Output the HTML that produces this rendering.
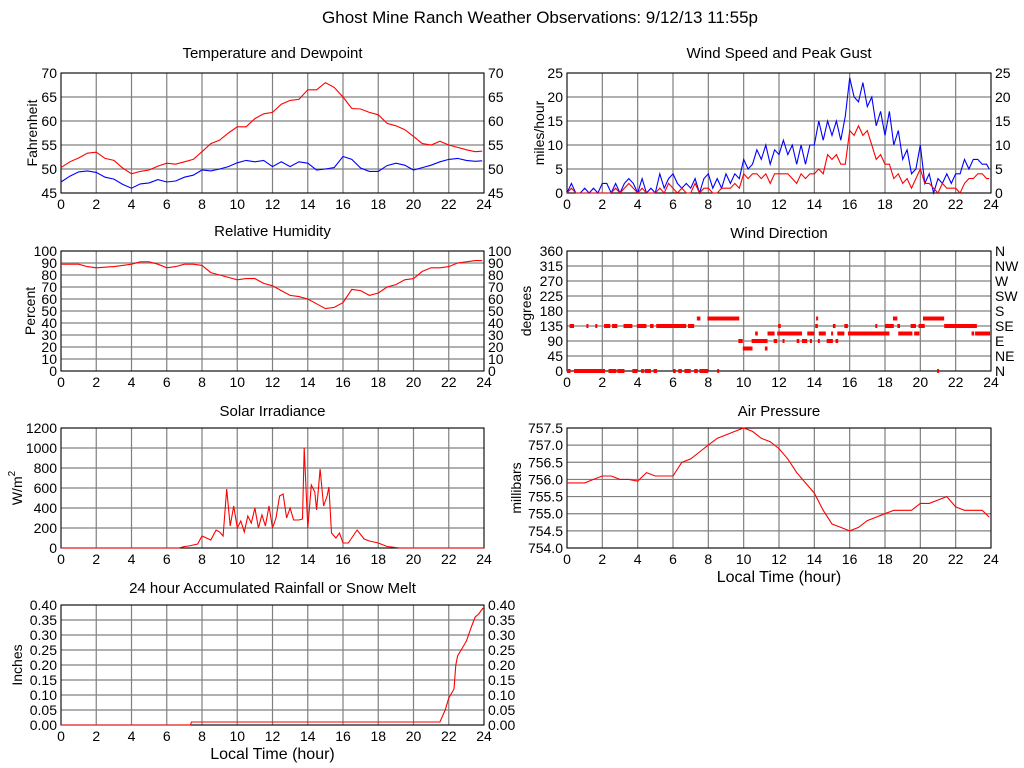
<!DOCTYPE html>
<html><head><meta charset="utf-8"><style>
body{margin:0;background:#fff;}
svg{display:block;font-family:"Liberation Sans",Arial,sans-serif;}
</style></head><body>
<svg id="c" width="1024" height="768" viewBox="0 0 1024 768">
<text x="540" y="23" font-size="17" text-anchor="middle">Ghost Mine Ranch Weather Observations: 9/12/13 11:55p</text>
</svg>
<script>
// ---- data ----
const hoursHalf = [0,0.5,1,1.5,2,2.5,3,3.5,4,4.5,5,5.5,6,6.5,7,7.5,8,8.5,9,9.5,10,10.5,11,11.5,12,12.5,13,13.5,14,14.5,15,15.5,16,16.5,17,17.5,18,18.5,19,19.5,20,20.5,21,21.5,22,22.5,23,23.5,23.9];
const tempVals = [50.3,51.5,52.3,53.3,53.5,52.2,51.8,50.2,49.0,49.5,49.8,50.6,51.2,51.0,51.5,52.0,53.6,55.3,56.0,57.5,58.8,58.8,60.5,61.5,61.8,63.5,64.3,64.5,66.5,66.5,68.0,67.0,65.0,62.6,62.5,61.8,61.3,59.5,59.0,58.2,56.8,55.3,55.0,55.8,55.0,54.5,54.0,53.6,53.7];
const dewVals = [47.3,48.5,49.4,49.6,49.3,48.3,47.9,46.8,46.0,46.9,47.1,47.8,47.3,47.5,48.3,48.7,49.8,49.6,50.0,50.5,51.3,51.8,51.5,51.8,50.5,51.5,50.5,51.5,51.2,49.8,50.0,50.3,52.6,52.0,50.2,49.5,49.5,50.7,51.2,50.8,49.8,50.3,50.8,51.5,52.0,52.2,51.8,51.6,51.7];
const humidVals = [89,89,89,87,86,86.5,87,88,89,91,91,89,86,87,89,89,88,82,80,78,76,77,77,73,71,67,63,62,60,56,52,53,57,68,67,63,65,70,72,76,77,83,86,86,87,90,91,92,92];
const pressVals = [755.9,755.9,755.9,756.0,756.1,756.1,756.0,756.0,755.95,756.2,756.1,756.1,756.1,756.5,756.6,756.8,757.0,757.2,757.3,757.4,757.5,757.4,757.2,757.1,756.9,756.6,756.2,755.9,755.6,755.1,754.7,754.6,754.5,754.6,754.8,754.9,755.0,755.1,755.1,755.1,755.3,755.3,755.4,755.5,755.2,755.1,755.1,755.1,754.9];
const gustVals = [0,2,0,0,1,0,1,0, 2,2,0,2,0,2,3,2, 0,3,0,1,0,4,1,3, 4,2,1,2,1,3,0,3, 4,1,3,1,4,2,4,3, 7,5,6,9,7,10,6,9, 8,11,8,10,6,10,6,10, 10,15,11,15,12,15,11,16, 24,20,19,23,18,20,14,17, 12,17,10,13,7,9,4,5, 10,2,4,0,3,2,4,2, 4,4,7,5,7,7,6,6,5];
const speedVals = [0,1,0,0,0,0,0,0, 0,0,0,1,0,1,2,1, 0,1,0,0,0,1,0,2, 1,0,1,0,0,2,0,1, 1,0,0,1,1,1,2,1, 4,3,4,4,3,4,2,4, 4,4,4,3,2,4,3,4, 4,5,4,8,7,8,6,6, 13,12,14,12,13,10,7,8, 6,6,3,4,2,3,1,3, 5,2,2,1,0,2,1,1, 1,0,2,3,3,4,4,3,3];
const solarHours = [0,6.7,7,7.25,7.5,7.75,8,8.5,8.8,9,9.2,9.4,9.6,9.8,10,10.2,10.4,10.6,10.8,11,11.2,11.4,11.6,11.8,12,12.2,12.4,12.6,12.8,13,13.2,13.5,13.7,13.8,14,14.2,14.4,14.5,14.7,14.9,15.1,15.2,15.35,15.6,15.8,16,16.3,16.8,17.2,17.5,18,18.5,19,19.2,24];
const solarVals = [0,0,15,20,30,40,120,80,180,160,120,590,220,420,200,270,160,320,250,400,200,330,220,420,200,300,520,540,300,400,280,280,290,1000,200,630,560,380,790,420,520,610,150,100,150,50,50,180,90,70,50,15,5,0,0];
const rainHours = [0,7.35,7.4,21.5,21.8,22.0,22.3,22.4,22.5,22.8,23.0,23.3,23.5,23.7,23.95];
const rainVals = [0,0,0.01,0.01,0.05,0.09,0.12,0.20,0.23,0.26,0.28,0.33,0.36,0.37,0.39];
const dirStart = [0,0.4,2.35,2.85,3.7,4.2,4.4,4.9,6.0,6.3,6.65,7.2,7.5,8.5,20.95, 0.15,1.1,1.6,2.1,2.55,3.2,3.95,4.7,5.05,6.85,11.95,14.05,15.05,15.7,17.45,18.0,18.7,19.45,19.9,21.35, 7.35,7.95,14.1,18.45,20.15, 9.7,10.45,11.7,12.2,13.0,13.3,13.75,14.2,14.7,15.2, 9.95,11.2, 10.65,11.35,11.9,13.6,14.25,14.95,15.3,15.9,18.75,19.65,22.9,23.1];
const dirEnd = [0.2,2.15,2.8,3.25,4.0,4.35,4.75,5.1,6.15,6.5,7.0,7.4,8.0,8.6,21.05, 0.4,1.15,1.65,2.45,2.85,3.7,4.5,4.9,6.75,7.2,12.1,14.2,15.2,15.9,17.5,18.5,18.85,19.75,20.25,23.2, 7.55,9.75,14.2,18.7,21.35, 9.95,11.35,11.9,12.25,13.15,13.6,13.8,14.3,15.05,15.35, 10.5,11.35, 10.8,11.75,13.3,14.0,14.65,15.05,15.7,18.25,19.55,19.95,23.05,23.95];
const dirVals = [0,0,0,0,0,0,0,0,0,0,0,0,0,0,0, 135,135,135,135,135,135,135,135,135,135,135,135,135,135,135,135,135,135,135,135, 157.5,157.5,157.5,157.5,157.5, 90,90,90,90,90,90,90,90,90,90, 67.5,67.5, 112.5,112.5,112.5,112.5,112.5,112.5,112.5,112.5,112.5,112.5,112.5,112.5];
const hourTicks = [0,2,4,6,8,10,12,14,16,18,20,22,24];
const tempTicks = [45,50,55,60,65,70];
const windTicks = [0,5,10,15,20,25];
const humTicks = [0,10,20,30,40,50,60,70,80,90,100];
const dirTicks = [0,45,90,135,180,225,270,315,360];
const dirNames = ['N','NE','E','SE','S','SW','W','NW','N'];
const solarTicks = [0,200,400,600,800,1000,1200];
const pressTicks = [754.0,754.5,755.0,755.5,756.0,756.5,757.0,757.5];
const rainTicks = [0,0.05,0.10,0.15,0.20,0.25,0.30,0.35,0.40];

const NS='http://www.w3.org/2000/svg';
const svg=document.getElementById('c');
function mk(tag,attrs,parent){const e=document.createElementNS(NS,tag);for(const k in attrs)e.setAttribute(k,attrs[k]);(parent||svg).appendChild(e);return e;}
function txt(s,attrs,parent){const e=mk('text',attrs,parent);e.textContent=s;return e;}

function panel(name,L,T,R,B,ymin,ymax,ticks,opt){
  const g=mk('g',{});
  
  
  const sx=h=>L+(h/24)*(R-L);
  const sy=v=>B-(v-ymin)/(ymax-ymin)*(B-T);
  hourTicks.forEach(h=>{
    const l=mk('line',{x1:sx(h),x2:sx(h),y1:T,y2:B,stroke:'#808080','stroke-width':1.2},g);
    
    
    const t=txt(String(h),{x:sx(h),y:B+16,'font-size':14,'text-anchor':'middle'},g);
    
    
  });
  ticks.forEach((v,i)=>{
    const l=mk('line',{x1:L,x2:R,y1:sy(v),y2:sy(v),stroke:'#808080','stroke-width':1.2},g);
    
    
    const lab=opt.fmt?opt.fmt(v):String(v);
    const t=txt(lab,{x:L-4,y:sy(v)+5,'font-size':14,'text-anchor':'end'},g);
    
    
    if(opt.right){
      const r=txt(opt.rightLabels?opt.rightLabels[i]:lab,{x:R+4,y:sy(v)+5,'font-size':14,'text-anchor':'start'},g);
      
      
    }
  });
  const fr=mk('rect',{x:L,y:T,width:R-L,height:B-T,fill:'none',stroke:'#000','stroke-width':1},g);
  
  
  const tt=txt(opt.title,{x:(L+R)/2,y:opt.titleY,'font-size':15,'text-anchor':'middle'},g);
  
  
  const yl=txt(opt.ylabel,{x:0,y:0,'font-size':14,'text-anchor':'middle',transform:`translate(${opt.ylx},${(T+B)/2}) rotate(-90)`},g);
  
  
  if(opt.sup){const s=mk('tspan',{dy:-7,'font-size':10},yl);s.textContent=opt.sup;}
  if(opt.xlabel){
    const xl=txt(opt.xlabel,{x:(L+R)/2,y:B+34,'font-size':16,'text-anchor':'middle'},g);
    
    
  }
  return {g,sx,sy};
}
function line(p,hs,vs,color,name){
  const d=hs.map((h,i)=>(i?'L':'M')+p.sx(h).toFixed(1)+','+p.sy(vs[i]).toFixed(1)).join('');
  const e=mk('path',{d:d,fill:'none',stroke:color,'stroke-width':1.1},p.g);
  
  
}
const qHours=gustVals.map((_,i)=>Math.min(i*0.25,23.9));

const p1=panel('temperature-panel',61,73,484,193,45,70,tempTicks,{title:'Temperature and Dewpoint',titleY:58,ylabel:'Fahrenheit',ylx:37,right:true});
line(p1,hoursHalf,tempVals,'#ff0000','temperature-line');
line(p1,hoursHalf,dewVals,'#0000ff','dewpoint-line');

const p2=panel('wind-speed-panel',567,73,991,193,0,25,windTicks,{title:'Wind Speed and Peak Gust',titleY:58,ylabel:'miles/hour',ylx:544,right:true});
line(p2,qHours,gustVals,'#0000ff','peak-gust-line');
line(p2,qHours,speedVals,'#ff0000','wind-speed-line');

const p3=panel('humidity-panel',61,251,484,371,0,100,humTicks,{title:'Relative Humidity',titleY:236,ylabel:'Percent',ylx:35,right:true});
line(p3,hoursHalf,humidVals,'#ff0000','humidity-line');

const p4=panel('wind-direction-panel',567,251,991,371,0,360,dirTicks,{title:'Wind Direction',titleY:238,ylabel:'degrees',ylx:531,right:true,rightLabels:dirNames});
dirVals.forEach((v,i)=>{
  const x1=p4.sx(dirStart[i]),x2=p4.sx(dirEnd[i]);
  const r=mk('rect',{x:x1,y:p4.sy(v)-2,width:Math.max(2,x2-x1),height:4,fill:'#ff0000'},p4.g);
  
  
});

const p5=panel('solar-panel',61,428,484,548,0,1200,solarTicks,{title:'Solar Irradiance',titleY:416,ylabel:'W/m',sup:'2',ylx:22});
line(p5,solarHours,solarVals,'#ff0000','solar-line');

const p6=panel('pressure-panel',567,428,991,548,754,757.5,pressTicks,{title:'Air Pressure',titleY:416,ylabel:'millibars',ylx:521,fmt:v=>v.toFixed(1),xlabel:'Local Time (hour)'});
line(p6,hoursHalf,pressVals,'#ff0000','pressure-line');

const p7=panel('rainfall-panel',61,605,484,725,0,0.4,rainTicks,{title:'24 hour Accumulated Rainfall or Snow Melt',titleY:593,ylabel:'Inches',ylx:22,right:true,fmt:v=>v.toFixed(2),xlabel:'Local Time (hour)'});
line(p7,rainHours,rainVals,'#ff0000','rainfall-line');
</script>
</body></html>
